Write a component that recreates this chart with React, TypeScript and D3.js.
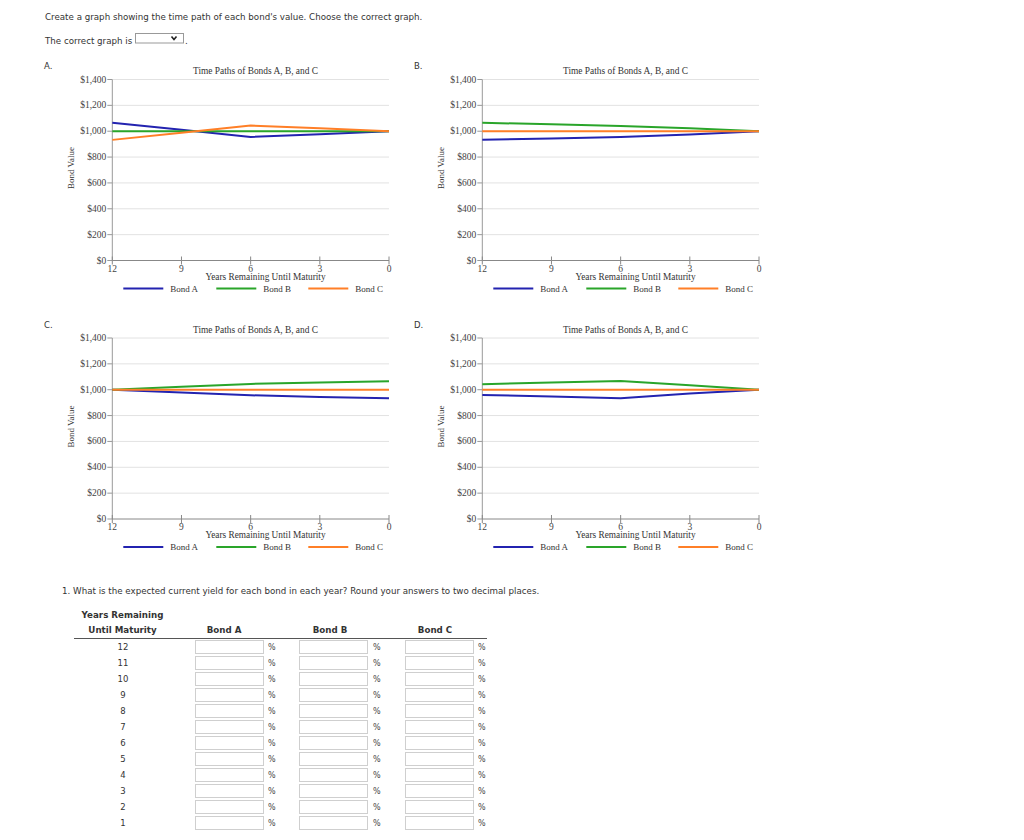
import React from "react";
import * as d3 from "d3";

// ---------- data ----------
const years = [12, 9, 6, 3, 0];
const yTicks = [0, 200, 400, 600, 800, 1000, 1200, 1400];
const seriesNames = ["Bond A", "Bond B", "Bond C"];
const seriesColors = ["#2323b0", "#2aa52a", "#ff7f27"];

const graphA_bondA = [1066, 1011, 956, 977, 1000];
const graphA_bondB = [1000, 1000, 1000, 1000, 1000];
const graphA_bondC = [933, 988, 1044, 1023, 1000];

const graphB_bondA = [934, 944, 956, 975, 1000];
const graphB_bondB = [1065, 1054, 1041, 1023, 1000];
const graphB_bondC = [1000, 1000, 1000, 1000, 1000];

const graphC_bondA = [1000, 979, 957, 944, 934];
const graphC_bondB = [1000, 1023, 1045, 1056, 1066];
const graphC_bondC = [1000, 1000, 1000, 1000, 1000];

const graphD_bondA = [959, 948, 934, 970, 1000];
const graphD_bondB = [1043, 1055, 1067, 1035, 1000];
const graphD_bondC = [1000, 1000, 1000, 1000, 1000];

const tableYears = [12, 11, 10, 9, 8, 7, 6, 5, 4, 3, 2, 1];
const tableCols = ["Bond A", "Bond B", "Bond C"];

const graphs = [
  { label: "A.", series: [graphA_bondA, graphA_bondB, graphA_bondC], ox: 0, oy: 0 },
  { label: "B.", series: [graphB_bondA, graphB_bondB, graphB_bondC], ox: 370, oy: 0 },
  { label: "C.", series: [graphC_bondA, graphC_bondB, graphC_bondC], ox: 0, oy: 258.5 },
  { label: "D.", series: [graphD_bondA, graphD_bondB, graphD_bondC], ox: 370, oy: 258.5 },
];

const SANS = "'DejaVu Sans', Verdana, sans-serif";
const SERIF = "'Liberation Serif', 'Times New Roman', serif";
const PAGE_FS = 8.7;

function Chart({ label, series, ox, oy }: any) {
  const left = 112.3 + ox;
  const right = 389 + ox;
  const top = 79.5 + oy;
  const bottom = 260.5 + oy;
  const x = d3.scaleLinear().domain([12, 0]).range([left, right]);
  const y = d3.scaleLinear().domain([0, 1400]).range([bottom, top]);
  const line = d3
    .line<number>()
    .x((_, i) => x(years[i]))
    .y((d) => y(d));
  const fmt = (v: number) => "$" + d3.format(",")(v);
  const legendX = [0, 93, 185];
  return (
    <g>
      <text x={44 + ox} y={69 + oy} fontFamily={SANS} fontSize={8.5} fill="#333">
        {label}
      </text>
      <text x={255.5 + ox} y={74 + oy} fontFamily={SERIF} fontSize={9.4} fill="#333" textAnchor="middle">
        Time Paths of Bonds A, B, and C
      </text>
      {yTicks.map((t) => (
        <g key={t}>
          {t > 0 && <line x1={left} x2={right} y1={y(t)} y2={y(t)} stroke="#e2e2e2" strokeWidth={1} />}
          <line x1={left - 5} x2={left} y1={y(t)} y2={y(t)} stroke="#999" strokeWidth={1} />
          <text x={left - 6} y={y(t) + 3} fontFamily={SERIF} fontSize={9.5} fill="#444" textAnchor="end">
            {fmt(t)}
          </text>
        </g>
      ))}
      <line x1={left} x2={left} y1={top} y2={bottom} stroke="#999" strokeWidth={1} />
      <line x1={left} x2={right} y1={bottom} y2={bottom} stroke="#888" strokeWidth={1} />
      {years.map((t) => (
        <g key={t}>
          <line x1={x(t)} x2={x(t)} y1={bottom - 4} y2={bottom + 4} stroke="#888" strokeWidth={1} />
          <text x={x(t)} y={bottom + 11} fontFamily={SERIF} fontSize={9.5} fill="#444" textAnchor="middle">
            {t}
          </text>
        </g>
      ))}
      <text x={265.5 + ox} y={bottom + 19} fontFamily={SERIF} fontSize={9.3} fill="#333" textAnchor="middle">
        Years Remaining Until Maturity
      </text>
      <text
        transform={`translate(${74 + ox},${168 + oy}) rotate(-90)`}
        fontFamily={SERIF}
        fontSize={9}
        fill="#333"
        textAnchor="middle"
      >
        Bond Value
      </text>
      {series.map((s: number[], i: number) => (
        <path key={i} d={line(s) || ""} fill="none" stroke={seriesColors[i]} strokeWidth={2} />
      ))}
      {seriesNames.map((n, i) => (
        <g key={n}>
          <line
            x1={left + 11 + legendX[i]}
            x2={left + 51 + legendX[i]}
            y1={bottom + 28}
            y2={bottom + 28}
            stroke={seriesColors[i]}
            strokeWidth={2}
          />
          <text x={left + 58 + legendX[i]} y={bottom + 31} fontFamily={SERIF} fontSize={9} fill="#333">
            {n}
          </text>
        </g>
      ))}
    </g>
  );
}

export default function App() {
  const rowY = (i: number) => 647 + i * 16;
  const boxX = [195, 299, 405];
  const pctX = [268, 373, 478];
  const headX = [224, 330, 435];
  return (
    <svg
      width={1024}
      height={840}
      style={{ position: "absolute", left: 0, top: 0, background: "#fff" }}
    >
      <rect x={0} y={0} width={1024} height={840} fill="#fff" />
      <text x={45} y={20} fontFamily={SANS} fontSize={PAGE_FS} fill="#333">
        Create a graph showing the time path of each bond's value. Choose the correct graph.
      </text>
      <text x={45} y={43.5} fontFamily={SANS} fontSize={PAGE_FS} fill="#333">
        The correct graph is
      </text>
      <rect x={135.5} y={33.5} width={48} height={9.5} fill="#fff" stroke="#999" strokeWidth={1} />
      <path d="M171.5,36.5 L174,39.5 L176.5,36.5" fill="none" stroke="#222" strokeWidth={1.6} />
      <text x={185} y={43.5} fontFamily={SANS} fontSize={PAGE_FS} fill="#333">
        .
      </text>

      {graphs.map((g) => (
        <Chart key={g.label} {...g} />
      ))}

      <text x={62} y={594} fontFamily={SANS} fontSize={PAGE_FS} fill="#333">
        1. What is the expected current yield for each bond in each year? Round your answers to two decimal places.
      </text>
      <text x={122.5} y={618} fontFamily={SANS} fontSize={PAGE_FS} fontWeight="bold" fill="#333" textAnchor="middle">
        Years Remaining
      </text>
      <text x={122.5} y={633} fontFamily={SANS} fontSize={PAGE_FS} fontWeight="bold" fill="#333" textAnchor="middle">
        Until Maturity
      </text>
      {tableCols.map((c, i) => (
        <text key={c} x={headX[i]} y={633} fontFamily={SANS} fontSize={PAGE_FS} fontWeight="bold" fill="#333" textAnchor="middle">
          {c}
        </text>
      ))}
      <line x1={74} x2={487} y1={638.5} y2={638.5} stroke="#555" strokeWidth={1} />
      {tableYears.map((yr, r) => (
        <g key={yr}>
          <text x={123} y={rowY(r) + 3} fontFamily={SANS} fontSize={8.5} fill="#333" textAnchor="middle">
            {yr}
          </text>
          {boxX.map((bx, j) => (
            <g key={j}>
              <rect x={bx + 0.5} y={rowY(r) - 6.5} width={68} height={13} fill="#fff" stroke="#cfcfcf" strokeWidth={1} />
              <text x={pctX[j]} y={rowY(r) + 3} fontFamily={SANS} fontSize={8} fill="#444">
                %
              </text>
            </g>
          ))}
        </g>
      ))}
    </svg>
  );
}
